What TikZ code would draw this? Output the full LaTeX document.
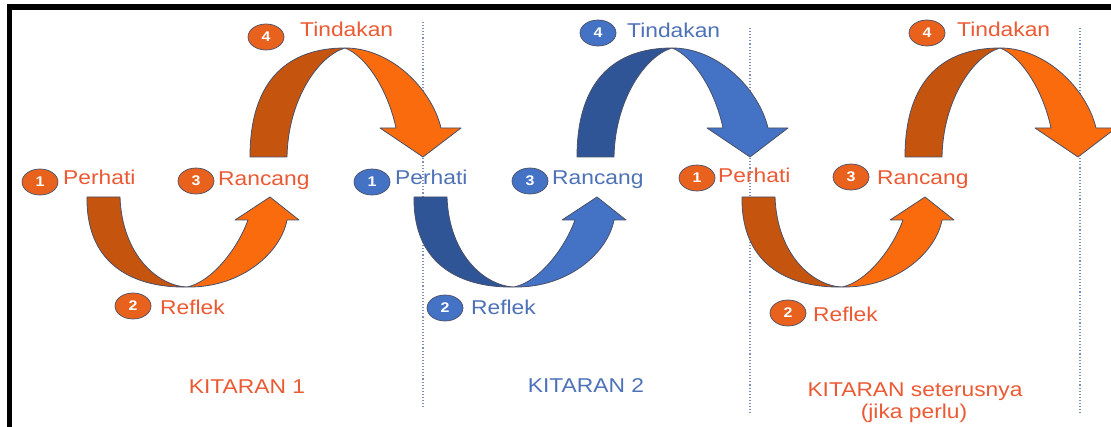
\documentclass[tikz,border=0pt]{standalone}
\usepackage{fontspec}
\setmainfont{Liberation Sans}[FakeStretch=1.14]
\usetikzlibrary{shapes.geometric}
\definecolor{odark}{HTML}{C5540F}
\definecolor{olight}{HTML}{F96B0C}
\definecolor{bdark}{HTML}{2F5597}
\definecolor{blight}{HTML}{4472C4}
\definecolor{otext}{HTML}{EC5A34}
\definecolor{btext}{HTML}{4E72B8}
\definecolor{obadge}{HTML}{E8621E}
\definecolor{bbadge}{HTML}{4472C4}
\definecolor{outl}{HTML}{4A5068}
\definecolor{dotc}{HTML}{7F90B8}
\tikzset{
  body/.style={draw=outl, line width=0.8pt, line join=round},
  badge/.style={ellipse, minimum width=36pt, minimum height=26pt, inner sep=0pt,
    draw=outl, line width=0.7pt, text=white, font=\bfseries\fontsize{14}{14}\selectfont},
  lbl/.style={inner sep=0pt, anchor=base west, font=\fontsize{20}{20}\selectfont},
  title/.style={inner sep=0pt, anchor=base, font=\fontsize{20}{20}\selectfont},
  sep/.style={draw=dotc, line width=1.1pt, dotted},
}
\newcommand\arrowpair[3]{%
\begin{scope}[xshift=#1]
  % lower U arrow
  \path[body, fill=#2] (87,197) .. controls (86,268) and (138,288) .. (187,287)
     .. controls (158,286) and (122,255) .. (120,197) -- cycle;
  \path[body, fill=#3] (187,287) .. controls (242,288) and (281,252) .. (287,220)
     -- (299,220) -- (270,197) -- (235,220) -- (248,220)
     .. controls (238,248) and (212,282) .. (187,287) -- cycle;
  % upper arch arrow
  \path[body, fill=#2] (250,157) .. controls (250,78) and (290,48) .. (345,48)
     .. controls (318,56) and (288,100) .. (287,157) -- cycle;
  \path[body, fill=#3] (345,48) .. controls (392,48) and (432,90) .. (441,128)
     -- (461,128) -- (423,157) -- (380,128) -- (396,128)
     .. controls (388,90) and (366,56) .. (345,48) -- cycle;
\end{scope}}
\begin{document}
\begin{tikzpicture}[x=1pt, y=-1pt]
\useasboundingbox (0,0) rectangle (1111,427);
\fill[white] (0,0) rectangle (1111,427);
% separators
\coordinate (s1t) at (423,22); \coordinate (s1b) at (423,408);
\coordinate (s2t) at (750,28); \coordinate (s2b) at (750,415);
\coordinate (s3t) at (1080,28); \coordinate (s3b) at (1080,415);
\draw[sep] (s1t) -- (s1b);
\draw[sep] (s2t) -- (s2b);
\draw[sep] (s3t) -- (s3b);
% arrows
\arrowpair{0pt}{odark}{olight}
\arrowpair{327pt}{bdark}{blight}
\arrowpair{655pt}{odark}{olight}
% cycle 1
\node[badge, fill=obadge] (a1) at (40,182) {1};
\node[lbl, text=otext] (a1t) at (63,185) {Perhati};
\node[badge, fill=obadge] (a2) at (133,306) {2};
\node[lbl, text=otext] (a2t) at (160,315) {Reflek};
\node[badge, fill=obadge] (a3) at (196,181) {3};
\node[lbl, text=otext] (a3t) at (218,186) {Rancang};
\node[badge, fill=obadge] (a4) at (266,37) {4};
\node[lbl, text=otext] (a4t) at (300,37) {Tindakan};
\node[title, text=otext] (k1) at (247,393) {KITARAN 1};
% cycle 2
\node[badge, fill=bbadge] (b1) at (372,182) {1};
\node[lbl, text=btext] (b1t) at (395,185) {Perhati};
\node[badge, fill=bbadge] (b2) at (445,308) {2};
\node[lbl, text=btext] (b2t) at (471,315) {Reflek};
\node[badge, fill=bbadge] (b3) at (530,181) {3};
\node[lbl, text=btext] (b3t) at (552,185) {Rancang};
\node[badge, fill=bbadge] (b4) at (598,33) {4};
\node[lbl, text=btext] (b4t) at (627,38) {Tindakan};
\node[title, text=btext] (k2) at (586,392) {KITARAN 2};
% cycle 3
\node[badge, fill=obadge] (c1) at (697,178) {1};
\node[lbl, text=otext] (c1t) at (718,183) {Perhati};
\node[badge, fill=obadge] (c2) at (788,313) {2};
\node[lbl, text=otext] (c2t) at (813,322) {Reflek};
\node[badge, fill=obadge] (c3) at (851,177) {3};
\node[lbl, text=otext] (c3t) at (877,185) {Rancang};
\node[badge, fill=obadge] (c4) at (927,33) {4};
\node[lbl, text=otext] (c4t) at (957,37) {Tindakan};
\node[title, text=otext] (k3) at (915,397) {KITARAN seterusnya};
\node[title, text=otext] (k3b) at (914,418) {(jika perlu)};
% frame
\draw[line width=5.5pt, line join=miter] (9.5,427) -- (9.5,7) -- (1111,7);
\end{tikzpicture}
\end{document}
